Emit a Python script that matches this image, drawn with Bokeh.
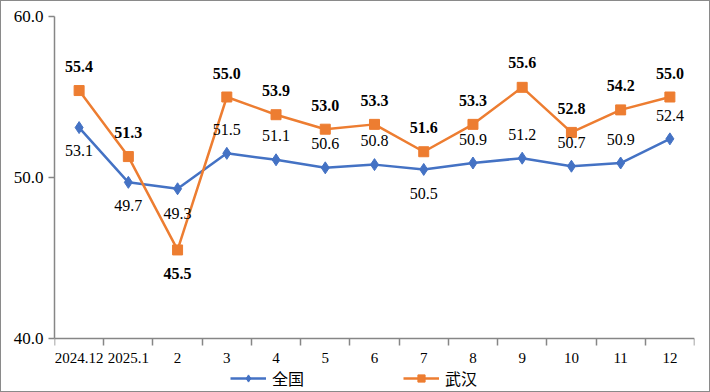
from bokeh.plotting import figure
from bokeh.models import (ColumnDataSource, Range1d, FixedTicker, Legend, LegendItem,
                          PrintfTickFormatter, LinearAxis, InlineStyleSheet)
from bokeh.layouts import column
from bokeh.core.properties import value
from bokeh.embed import file_html
from bokeh.resources import INLINE

categories = ["2024.12", "2025.1", "2", "3", "4", "5", "6", "7", "8", "9", "10", "11", "12"]
national = [53.1, 49.7, 49.3, 51.5, 51.1, 50.6, 50.8, 50.5, 50.9, 51.2, 50.7, 50.9, 52.4]
wuhan = [55.4, 51.3, 45.5, 55.0, 53.9, 53.0, 53.3, 51.6, 53.3, 55.6, 52.8, 54.2, 55.0]
y_ticks = [40, 50, 60]
y_min, y_max = 40, 60

# label placement (pixels; negative = above point)
national_label_dy = [23, 23, 25, -24, -24, -24, -24, 24, -24, -24, -24, -24, -23]
wuhan_label_dy = [-24, -24, 24, -24, -24, -24, -24, -24, -24, -25, -24, -24, -24]

BLUE = "#4472C4"
ORANGE = "#ED7D31"
AXIS = "#868686"
SERIF = "Liberation Serif"

xs = list(range(len(categories)))
src = ColumnDataSource(dict(
    x=xs, nat=national, wh=wuhan,
    nat_txt=[f"{v:.1f}" for v in national],
    wh_txt=[f"{v:.1f}" for v in wuhan],
    nat_dy=national_label_dy,
    wh_dy=wuhan_label_dy,
))

# frame extends below the value axis to leave room for axis labels and legend
PX_PER_UNIT = 16.1
FRAME_H = 376
y_lo = y_max - FRAME_H / PX_PER_UNIT

p = figure(output_backend="svg", toolbar_location=None,
           x_range=Range1d(-0.5, len(categories) - 0.5), y_range=Range1d(y_lo, y_max),
           x_axis_location=None,
           min_border_left=54, min_border_right=16, min_border_top=16, min_border_bottom=0,
           frame_width=640, frame_height=FRAME_H)
p.outline_line_color = None
p.xgrid.visible = False
p.ygrid.visible = False

r1 = p.line("x", "nat", source=src, line_color=BLUE, line_width=2.5)
s1 = p.scatter("x", "nat", source=src, marker="diamond", size=12, fill_color=BLUE, line_color=BLUE)
r2 = p.line("x", "wh", source=src, line_color=ORANGE, line_width=2.5)
s2 = p.scatter("x", "wh", source=src, marker="square", size=10, fill_color=ORANGE, line_color=ORANGE)

p.text("x", "nat", text="nat_txt", source=src, y_offset="nat_dy",
       text_align="center", text_baseline="middle", text_font=value(SERIF),
       text_font_size="16px", text_color="#000000")
p.text("x", "wh", text="wh_txt", source=src, y_offset="wh_dy",
       text_align="center", text_baseline="middle", text_font=value(SERIF),
       text_font_size="16px", text_font_style="bold", text_color="#000000")

# x axis drawn at y = 40
xa = LinearAxis(fixed_location=y_min)
xa.ticker = FixedTicker(ticks=xs, minor_ticks=[i - 0.5 for i in range(len(categories) + 1)])
xa.major_label_overrides = {i: c for i, c in zip(xs, categories)}
xa.major_tick_out = 0
xa.major_tick_in = 0
xa.minor_tick_out = 7
xa.minor_tick_in = 0
xa.minor_tick_line_color = AXIS
xa.minor_tick_line_width = 1.5
xa.axis_line_color = AXIS
xa.axis_line_width = 1.5
xa.major_label_text_font = SERIF
xa.major_label_text_font_size = "15px"
xa.major_label_text_color = "#000000"
xa.major_label_standoff = 7
p.add_layout(xa, "below")

ya = p.yaxis[0]
ya.ticker = FixedTicker(ticks=y_ticks)
ya.bounds = (y_min, y_max)
ya.formatter = PrintfTickFormatter(format="%.1f")
ya.major_tick_out = 6
ya.major_tick_in = 0
ya.minor_tick_line_color = None
ya.major_tick_line_color = AXIS
ya.major_tick_line_width = 1.5
ya.axis_line_color = AXIS
ya.axis_line_width = 1.5
ya.major_label_text_font = SERIF
ya.major_label_text_font_size = "17px"
ya.major_label_text_color = "#000000"
ya.major_label_standoff = 5

legend = Legend(items=[LegendItem(label="全国", renderers=[r1, s1]),
                       LegendItem(label="武汉", renderers=[r2, s2])],
                orientation="horizontal", location=(176, 2),
                padding=0, margin=0, spacing=99, glyph_width=36, glyph_height=18,
                label_height=18, label_standoff=6, label_text_font="Noto Sans CJK SC",
                label_text_font_size="16px", label_text_color="#000000",
                label_text_baseline="middle",
                background_fill_alpha=0, border_line_color=None)
p.add_layout(legend, "center")

frame_css = InlineStyleSheet(css=":host { overflow: hidden !important; } "
                                 ":host::after { content: ''; position: absolute; left: 0; top: 0; "
                                 "width: 708px; height: 390px; border: 1px solid #8a8a8a; "
                                 "pointer-events: none; z-index: 10; }")
page = column(p, width=710, height=392, sizing_mode="fixed", stylesheets=[frame_css])

open("out.html", "w").write(file_html(page, INLINE))
